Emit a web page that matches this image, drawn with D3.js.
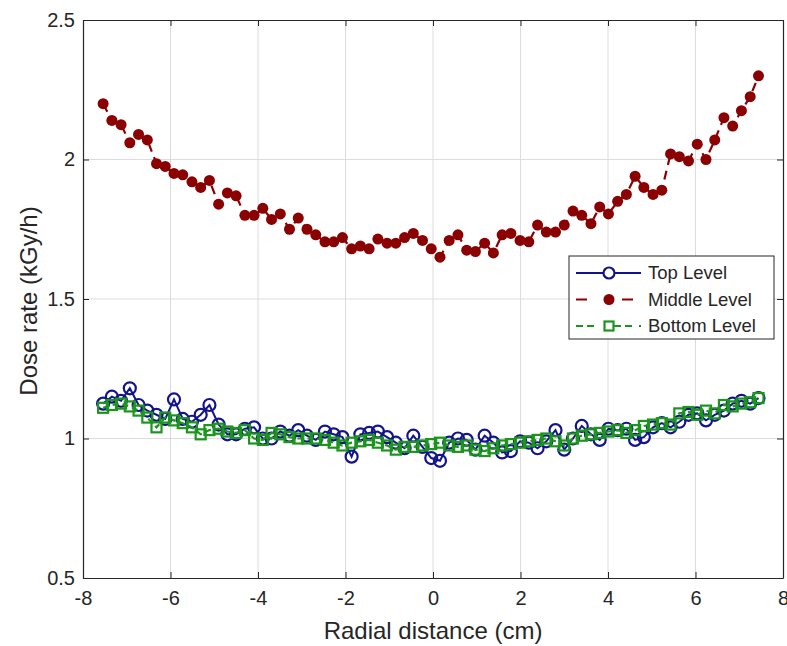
<!DOCTYPE html>
<html>
<head>
<meta charset="utf-8">
<script src="https://cdn.jsdelivr.net/npm/d3@7"></script>
<style>
  body { margin: 0; background: #fff; }
  text { font-family: "Liberation Sans", Arial, sans-serif; fill: #262626; }
</style>
</head>
<body>
<svg width="787" height="646"></svg>
<script>
// radial positions (cm)
var radial = [-7.54, -7.34, -7.13, -6.93, -6.73, -6.53, -6.32, -6.12, -5.92, -5.72,
  -5.51, -5.31, -5.11, -4.90, -4.70, -4.50, -4.30, -4.09, -3.89, -3.69,
  -3.49, -3.28, -3.08, -2.88, -2.68, -2.47, -2.27, -2.07, -1.86, -1.66,
  -1.46, -1.26, -1.05, -0.85, -0.65, -0.45, -0.24, -0.04, 0.16, 0.37,
  0.57, 0.77, 0.97, 1.18, 1.38, 1.58, 1.78, 1.99, 2.19, 2.39,
  2.59, 2.80, 3.00, 3.20, 3.40, 3.61, 3.81, 4.01, 4.22, 4.42,
  4.62, 4.82, 5.03, 5.23, 5.43, 5.63, 5.84, 6.04, 6.24, 6.44,
  6.65, 6.85, 7.05, 7.25, 7.44];

var topLevel = [1.125, 1.15, 1.135, 1.18, 1.12, 1.10, 1.085, 1.07, 1.14, 1.07,
  1.06, 1.085, 1.12, 1.05, 1.015, 1.015, 1.035, 1.04, 1.00, 1.00,
  1.025, 1.01, 1.03, 1.01, 0.995, 1.025, 1.015, 1.005, 0.935, 1.015,
  1.02, 1.025, 1.005, 0.985, 0.965, 1.01, 0.97, 0.93, 0.92, 0.985,
  1.00, 0.995, 0.96, 1.01, 0.985, 0.95, 0.955, 0.99, 0.985, 0.965,
  0.99, 1.03, 0.96, 1.00, 1.045, 1.015, 0.995, 1.035, 1.03, 1.035,
  0.995, 1.005, 1.04, 1.055, 1.04, 1.06, 1.085, 1.09, 1.065, 1.085,
  1.10, 1.125, 1.135, 1.125, 1.145];

var middleLevel = [2.20, 2.14, 2.125, 2.06, 2.09, 2.07, 1.985, 1.975, 1.95, 1.945,
  1.92, 1.90, 1.925, 1.84, 1.88, 1.87, 1.80, 1.80, 1.825, 1.785,
  1.805, 1.75, 1.79, 1.75, 1.73, 1.705, 1.705, 1.72, 1.68, 1.69,
  1.68, 1.715, 1.70, 1.70, 1.72, 1.735, 1.71, 1.68, 1.65, 1.71,
  1.73, 1.675, 1.67, 1.70, 1.665, 1.73, 1.735, 1.71, 1.705, 1.765,
  1.74, 1.74, 1.765, 1.815, 1.80, 1.77, 1.83, 1.805, 1.85, 1.875,
  1.94, 1.90, 1.875, 1.89, 2.02, 2.01, 1.995, 2.055, 2.00, 2.07,
  2.15, 2.12, 2.175, 2.225, 2.30];

var bottomLevel = [1.11, 1.12, 1.125, 1.115, 1.10, 1.075, 1.04, 1.075, 1.065, 1.055,
  1.04, 1.015, 1.03, 1.035, 1.025, 1.02, 1.03, 1.00, 0.995, 1.02,
  1.015, 1.005, 1.00, 1.00, 1.00, 0.995, 0.985, 0.975, 0.985, 0.99,
  0.995, 0.985, 0.975, 0.96, 0.97, 0.97, 0.975, 0.98, 0.985, 0.975,
  0.97, 0.975, 0.96, 0.955, 0.965, 0.975, 0.98, 0.985, 0.99, 0.995,
  1.00, 0.99, 0.975, 1.00, 1.01, 1.015, 1.02, 1.025, 1.03, 1.02,
  1.03, 1.045, 1.05, 1.055, 1.05, 1.09, 1.095, 1.085, 1.10, 1.09,
  1.12, 1.115, 1.125, 1.13, 1.145];

var xTicks = [-8, -6, -4, -2, 0, 2, 4, 6, 8];
var yTicks = [0.5, 1, 1.5, 2, 2.5];
var seriesNames = ["Top Level", "Middle Level", "Bottom Level"];

var svg = d3.select("svg"),
    margin = {top: 20, right: 4, bottom: 68, left: 83},
    width = +svg.attr("width") - margin.left - margin.right,
    height = +svg.attr("height") - margin.top - margin.bottom;

var x = d3.scaleLinear().domain([-8, 8]).range([0, width]),
    y = d3.scaleLinear().domain([0.5, 2.5]).range([height, 0]);

var g = svg.append("g").attr("transform", "translate(" + margin.left + "," + margin.top + ")");

// grid
g.append("g")
  .selectAll("line.gx")
  .data(xTicks.slice(1, -1))
  .enter().append("line")
  .attr("x1", d => x(d)).attr("x2", d => x(d))
  .attr("y1", 0).attr("y2", height)
  .attr("stroke", "#dcdcdc").attr("stroke-width", 1);
g.append("g")
  .selectAll("line.gy")
  .data(yTicks.slice(1, -1))
  .enter().append("line")
  .attr("x1", 0).attr("x2", width)
  .attr("y1", d => y(d)).attr("y2", d => y(d))
  .attr("stroke", "#dcdcdc").attr("stroke-width", 1);

var plain = d => String(d);

// axes (ticks pointing inward, box on)
var xAxis = g.append("g")
  .attr("transform", "translate(0," + height + ")")
  .call(d3.axisBottom(x).tickValues(xTicks).tickSizeInner(-6).tickSizeOuter(0).tickPadding(13).tickFormat(plain));
var xTop = g.append("g")
  .call(d3.axisTop(x).tickValues(xTicks).tickSizeInner(-6).tickSizeOuter(0).tickFormat(""));
var yAxis = g.append("g")
  .call(d3.axisLeft(y).tickValues(yTicks).tickSizeInner(-6).tickSizeOuter(0).tickPadding(8).tickFormat(plain));
var yRight = g.append("g")
  .attr("transform", "translate(" + width + ",0)")
  .call(d3.axisRight(y).tickValues(yTicks).tickSizeInner(-6).tickSizeOuter(0).tickFormat(""));

[xAxis, xTop, yAxis, yRight].forEach(function(a) {
  a.select(".domain").attr("stroke", "#262626").attr("stroke-width", 1.2);
  a.selectAll(".tick line").attr("stroke", "#262626");
  a.selectAll(".tick text").attr("font-size", 20).attr("fill", "#262626")
    .attr("font-family", "Liberation Sans, Arial, sans-serif");
});

svg.append("text")
  .attr("x", margin.left + width / 2)
  .attr("y", 639)
  .attr("text-anchor", "middle")
  .attr("font-size", 24)
  .text("Radial distance (cm)");

svg.append("text")
  .attr("transform", "translate(37," + (margin.top + height / 2 + 2) + ") rotate(-90)")
  .attr("text-anchor", "middle")
  .attr("font-size", 24)
  .text("Dose rate (kGy/h)");

var blue = "#13138a", red = "#8b0000", green = "#1c951c";

function pts(vals) {
  return vals.map(function(v, i) { return [radial[i], v]; });
}
var line = d3.line().x(d => x(d[0])).y(d => y(d[1]));

// middle level: dashed line with filled dots
g.append("path")
  .datum(pts(middleLevel))
  .attr("fill", "none").attr("stroke", red).attr("stroke-width", 2.2)
  .attr("stroke-dasharray", "9,6")
  .attr("d", line);
g.selectAll(".mid")
  .data(pts(middleLevel))
  .enter().append("circle")
  .attr("cx", d => x(d[0])).attr("cy", d => y(d[1]))
  .attr("r", 5.5).attr("fill", red);

// top level: solid line with open circles
g.append("path")
  .datum(pts(topLevel))
  .attr("fill", "none").attr("stroke", blue).attr("stroke-width", 2)
  .attr("d", line);
g.selectAll(".top")
  .data(pts(topLevel))
  .enter().append("circle")
  .attr("cx", d => x(d[0])).attr("cy", d => y(d[1]))
  .attr("r", 6).attr("fill", "none").attr("stroke", blue).attr("stroke-width", 2.2);

// bottom level: dashed line with open squares
g.append("path")
  .datum(pts(bottomLevel))
  .attr("fill", "none").attr("stroke", green).attr("stroke-width", 2.2)
  .attr("stroke-dasharray", "6,4")
  .attr("d", line);
g.selectAll(".bot")
  .data(pts(bottomLevel))
  .enter().append("rect")
  .attr("x", d => x(d[0]) - 5).attr("y", d => y(d[1]) - 5)
  .attr("width", 10).attr("height", 10)
  .attr("fill", "none").attr("stroke", green).attr("stroke-width", 2.2);

// legend
var lg = svg.append("g").attr("transform", "translate(569,256)");
lg.append("rect")
  .attr("width", 205).attr("height", 83)
  .attr("fill", "#fff").attr("stroke", "#262626").attr("stroke-width", 1);

var rows = lg.selectAll(".row")
  .data(seriesNames)
  .enter().append("g")
  .attr("transform", (d, i) => "translate(0," + (17 + i * 26.5) + ")");

rows.append("line")
  .attr("x1", 7).attr("x2", 72).attr("y1", 0).attr("y2", 0)
  .attr("stroke", (d, i) => [blue, red, green][i])
  .attr("stroke-width", 2.2)
  .attr("stroke-dasharray", (d, i) => ["none", "11,19,0,16,11", "7,4,7,4,0,16,7,4,7"][i]);

rows.filter((d, i) => i === 0).append("circle")
  .attr("cx", 40).attr("cy", 0).attr("r", 5.5)
  .attr("fill", "#fff").attr("stroke", blue).attr("stroke-width", 2.2);
rows.filter((d, i) => i === 1).append("circle")
  .attr("cx", 40).attr("cy", 0).attr("r", 5.5).attr("fill", red);
rows.filter((d, i) => i === 2).append("rect")
  .attr("x", 35.5).attr("y", -4.5).attr("width", 9).attr("height", 9)
  .attr("fill", "none").attr("stroke", green).attr("stroke-width", 2.2);

rows.append("text")
  .attr("x", 79).attr("y", 0).attr("dy", "0.35em")
  .attr("font-size", 18.5)
  .text(d => d);
</script>
</body>
</html>
